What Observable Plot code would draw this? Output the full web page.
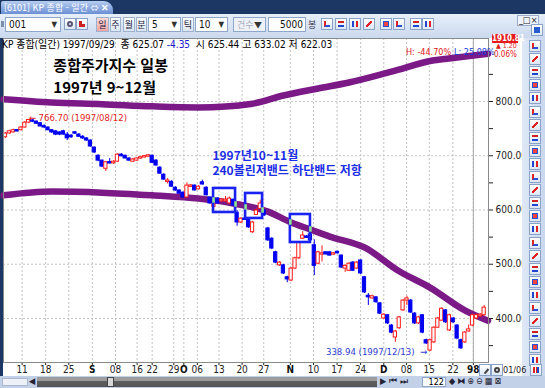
<!DOCTYPE html>
<html lang="ko"><head><meta charset="utf-8">
<script src="https://cdn.jsdelivr.net/npm/d3@7"></script>
<script src="https://cdn.jsdelivr.net/npm/@observablehq/plot@0.6"></script>
<style>
html,body{margin:0;padding:0}
body{width:545px;height:388px;position:relative;overflow:hidden;background:#1c3764;font-family:"Liberation Sans Narrow","DejaVu Sans Condensed","Noto Sans CJK KR",sans-serif;font-size:10px;}
.a{position:absolute;box-sizing:border-box;white-space:nowrap}
.kr{font-family:"Noto Sans CJK KR",sans-serif}
.combo{top:17px;height:15px;background:#fff;border:1px solid #8ea6c9;line-height:13px;padding-left:3px;color:#111}
.combo b{position:absolute;right:3px;top:0;font-size:8px;font-weight:normal;color:#333}
.btn{top:17px;height:15px;border:1px solid #9db0cc;background:linear-gradient(#fbfdff,#dbe5f3);line-height:13px;text-align:center;color:#1a1a40}
.ico{width:12px;height:12px;border:1px solid #8aa2c8;background:linear-gradient(#fff,#dce6f5);}
.ico i{position:absolute;left:2px;top:2px;width:6px;height:6px;box-sizing:border-box}
#chart{left:3px;top:38px}
</style></head><body>

<!-- window title bar -->
<div class="a kr" style="left:1px;top:1px;width:112px;height:13px;background:linear-gradient(#b7cdf1,#6a8fd3);border-radius:2px 9px 0 0;color:#fff;font-size:9px;line-height:13px;padding-left:3px">[6101] KP 종합 - 일간 <span style="font-size:8px">⇔</span> <b>✕</b></div>
<!-- toolbar -->
<div class="a" style="left:0;top:14px;width:545px;height:24px;background:linear-gradient(#e6eef9,#cbd9ee)"></div>
<div class="a" style="left:1px;top:21px;width:3px;height:6px;background:#7d8fae"></div>
<div class="a combo" style="left:5px;width:56px">001<b>▼</b></div>
<div class="a ico" style="left:64px;top:18px"><i style="border:2px solid #557;border-radius:50%"></i></div>
<div class="a ico" style="left:76px;top:18px"><i style="border-left:3px solid #c22;border-bottom:3px solid #c22"></i></div>
<div class="a btn kr" style="left:96px;width:13px;background:linear-gradient(#ffd9d9,#f2a6a6);font-size:9px">일</div>
<div class="a btn kr" style="left:110px;width:11px;font-size:9px">주</div>
<div class="a btn kr" style="left:123px;width:12px;font-size:9px">월</div>
<div class="a btn kr" style="left:136px;width:11px;font-size:9px">분</div>
<div class="a combo" style="left:148px;width:33px">5<b>▼</b></div>
<div class="a btn kr" style="left:182px;width:12px;font-size:9px">틱</div>
<div class="a combo" style="left:195px;width:33px">10<b>▼</b></div>
<div class="a combo kr" style="left:233px;width:33px;color:#aab;background:#eef2f8;font-size:9px">건수<b>▼</b></div>
<div class="a combo" style="left:268px;width:38px;text-align:right;padding-right:2px">5000</div>
<div class="a kr" style="left:308px;top:18px;font-size:9px;color:#334">봉</div>
<div id="tbicons"></div>
<div class="a" style="left:517px;top:15px;font-size:9px;color:#222;line-height:9px;background:#eef3fb;border:1px solid #9aaccb;padding:0 1px">_□×</div>
<div class="a ico" style="left:531px;top:24px;width:12px;height:12px"><i style="background:#2a5cd0"></i></div>

<!-- chart -->
<div id="chart" class="a"></div>

<!-- info row over chart -->
<div class="a" style="left:2px;top:39px;font-size:10px;line-height:11px;color:#000;z-index:5">KP 종합(일간) 1997/09/29 &nbsp;종 625.07 <span style="color:#1a1ad0">-4.35</span> &nbsp;시 625.44 고 633.02 저 622.03</div>
<div class="a" style="left:406px;top:48px;font-size:9px;line-height:9px;color:#e01818;z-index:5">H: -44.70%</div>
<div class="a" style="left:454px;top:48px;font-size:9px;line-height:9px;color:#1a3ad8;z-index:5">L: 25.08%</div>
<div class="a" style="left:492px;top:34px;width:26px;height:9px;background:#e41c1c;color:#fff;font-size:8px;line-height:9px;text-align:center;font-weight:bold;z-index:5">1910.81</div>
<div class="a" style="left:496px;top:43px;font-size:7px;line-height:7px;color:#e01818;z-index:5">▲ 1.20</div>
<div class="a" style="left:494px;top:51px;font-size:8px;line-height:8px;color:#e01818;z-index:5">0.06%</div>

<!-- right toolbar -->
<div class="a" style="left:522px;top:38px;width:23px;height:338px;background:linear-gradient(90deg,#dfe8f6,#c9d7ee)"></div>
<div id="rticons"></div>
<!-- x-axis row extras -->
<div class="a ico" style="left:479px;top:364px"><i style="border-right:2px solid #444;transform:rotate(40deg)"></i></div>
<div class="a ico" style="left:491px;top:364px"><i style="border:2px solid #444;border-radius:50%"></i></div>
<div class="a" style="left:503px;top:365px;font-size:9px;line-height:10px;color:#222;z-index:5">01/06</div>

<!-- bottom scroll row -->
<div class="a" style="left:0;top:376px;width:545px;height:12px;background:#c3d1e8"></div>
<div class="a" style="left:2px;top:378px;width:26px;height:8px;background:#eef2f8;border:1px solid #a9b8d0"></div>
<div class="a" style="left:29px;top:376px;font-size:9px;color:#223">◀</div>
<div class="a" style="left:37px;top:377px;width:340px;height:10px;background:linear-gradient(#9c9c9c 0,#9c9c9c 45%,#5e5e5e 45%,#555 100%)"></div>
<div class="a" style="left:107px;top:377px;width:7px;height:10px;background:#d8d8d8;border:1px solid #444"></div>
<div class="a" style="left:380px;top:376px;font-size:9px;color:#223;letter-spacing:3px">▶⏮⏭</div>
<div class="a" style="left:422px;top:377px;width:24px;height:10px;background:#fff;border:1px solid #8ea6c9;font-size:9px;line-height:8px;text-align:right;padding-right:1px">122</div>
<div class="a" style="left:449px;top:376px;font-size:9px;color:#223;letter-spacing:2px">◆⧓⊕⊖▦⊠</div>

<script>
// ---- data (KOSPI daily, 1997-08-05 .. 1998-01-06), one value per trading day ----
const openP  = [734,741,743,747,747,752,761,765,763,760,755,752,747,745,743,745,739,737,743,739,735,732,728,715,700,691,676,688,686,689,702,700,695,689,691,695,697,699,700,691,678,665,652,652,641,636,632,623,643,645,638,651,641,623,606,621,616,616,612,619,595,577,584,584,559,591,602,599,566,547,522,498,498,476,470,492,511,547,551,555,535,501,518,522,522,518,523,516,492,488,503,492,507,476,442,437,439,428,400,406,387,365,382,415,433,433,409,391,406,360,341,356,383,396,415,378,400,387,360,356,376,387,400,404,406];
const highP  = [743,747,749,748,754,763,766.7,766,764,761,757,753,748,746,744,747,743,739,744,741,737,733,729,716,702,692,689,695,691,704,704,701,696,695,696,698,700,702,701,693,680,667,658,654,643,637,633,650,647,646,645,655,643,624,612,623,621,625,624,620,599,586,586,585,579,602,618,600,568,549,524,505,500,478,494,513,542,560,553,557,545,524,534,523,523,521,524,517,499,503,505,505,508,477,446,443,440,429,409,407,389,378,404,435,441,435,411,404,407,362,362,385,402,420,416,408,402,389,362,376,388,408,408,409,424];
const lowP   = [732,740,742,744,746,751,759,761,758,753,750,746,741,737,737,738,728,732,739,734,730,727,716,704,689,678,671,685,684,688,698,694,690,688,690,694,696,698,686,681,666,655,648,642,634,629,622,622,642,635,637,646,626,611,604,611,614,614,610,607,570,575,581,566,557,590,601,588,542,527,501,496,481,466,468,490,509,546,548,543,479,499,504,517,515,517,519,492,485,487,487,491,481,446,424,436,428,407,399,389,372,356,380,413,424,409,389,389,372,352,338.94,354,382,395,391,376,391,361,343,354,375,385,398,402,404];
const closeP = [741,745,747,745,752,761,766,763,759,754,752,747,743,739,739,739,732,734,741,735,732,728,717,706,691,680,688,686,689,702,699,695,691,693,695,697,699,700,687,682,667,656,654,643,636,630,623,645,645,636,643,647,627,612,610,612,619,619,621,608,577,584,582,568,577,599,612,590,544,529,503,503,483,472,492,511,540,553,549,544,497,522,520,518,516,520,520,494,497,501,488,503,483,448,439,441,430,409,407,391,374,376,402,433,437,411,391,402,374,354,360,383,400,418,393,406,393,363,345,374,380,406,406,407,420];

// 240-day Bollinger band (read at a few bar positions)
const upperIdx = [-0.5, 12, 25, 38, 50, 64, 72, 81, 89, 100, 111, 117, 125];
const upperVal = [804, 798, 795, 791, 789, 796, 811, 824, 835, 855, 876, 881, 888];
const lowerIdx = [-0.5, 12, 25, 38, 50, 59, 68, 74, 79, 84, 93, 102, 110, 119, 125];
const lowerVal = [627, 634, 632, 627, 621, 612, 597, 577, 564, 551, 531, 487, 457, 415, 396];

// highlighted resistance boxes: bar range and price range
const boxFrom  = [53.9, 62.2, 73.8];
const boxTo    = [59.6, 66.6, 79.0];
const boxHigh  = [639.7, 630.5, 591.7];
const boxLow   = [595.4, 584.4, 540.1];
// band touches on box edges
const touchIdx = [53.9, 59.6, 62.2, 66.6, 73.8, 79.0];
const touchVal = [617.5, 610.2, 604.7, 599.1, 577.0, 564.1];

// axes
const xTickPos    = [4.3, 10.4, 16.4, 22.5, 28.5, 34.1, 38, 43.6, 46.2, 49.7, 55.3, 61.3, 66.9, 73.8, 79.8, 85.9, 92, 98, 103.9, 109.8, 115.9, 121.2];
const xTickLabels = ["11","18","25","S","08","16","22","29","O","06","13","20","27","N","10","17","24","D","08","15","22","98"];
const boldLabels  = ["S","O","N","D","98"];
const yearLine    = [121.2];
const yTicks      = [350,400,450,500,550,600,650,700,750,800,850];
const yGrid       = [400,500,600,700,800];

// texts
const titleLines = ["종합주가지수 일봉", "1997년 9~12월"];
const titleX = 12.4, titleY = [865.5, 824.0];
const noteLines  = ["1997년10~11월", "240볼린저밴드 하단밴드 저항"];
const noteX = 53.6, noteY = [699.6, 671.0];
const peakLabel = "← 766.70 (1997/08/12)";
const lowLabel  = "338.94 (1997/12/13)  →";

// ---- build ----
const upC = "#ff1a1a", dnC = "#0000f0", bandC = "#7b1a87";
const bars = openP.map((o, i) => ({i, o, h: highP[i], l: lowP[i], c: closeP[i], up: closeP[i] >= o}));
const bodies = bars.map(d => {
  let b1 = Math.min(d.o, d.c), b2 = Math.max(d.o, d.c);
  if (b2 - b1 < 2.6) { const m = (b1 + b2) / 2; b1 = m - 1.3; b2 = m + 1.3; }
  return {...d, b1, b2};
});
const upper = upperIdx.map((x, k) => ({x, v: upperVal[k]}));
const lower = lowerIdx.map((x, k) => ({x, v: lowerVal[k]}));
const boxes = boxFrom.map((x1, k) => ({x1, x2: boxTo[k], y1: boxLow[k], y2: boxHigh[k]}));
const touches = touchIdx.map((x, k) => ({x, v: touchVal[k]}));
const ticks = xTickPos.map((p, k) => ({p, s: xTickLabels[k]}));
const peakBar = bars.reduce((a, b) => b.h > a.h ? b : a);
const lowBar = bars.reduce((a, b) => b.l < a.l ? b : a);
const narrow = '"Liberation Sans Narrow","DejaVu Sans Condensed",sans-serif';
const kr = '"Noto Sans CJK KR",sans-serif';

const chart = Plot.plot({
  width: 519, height: 338,
  marginLeft: 0, marginRight: 34, marginTop: 0, marginBottom: 14,
  x: {type: "linear", domain: [-0.518, 125.13], axis: null},
  y: {domain: [318.9, 916.1], axis: null},
  color: {type: "identity"},
  style: {background: "#fff", color: "#222", fontFamily: narrow, fontSize: "10px", overflow: "visible"},
  marks: [
    Plot.ruleY(yGrid, {stroke: "#c2c2c2", strokeDasharray: "2,2"}),
    Plot.ruleX(xTickPos, {stroke: "#c2c2c2", strokeDasharray: "2,2"}),
    Plot.ruleX(yearLine, {stroke: "#a8a8a8"}),
    Plot.line(upper, {x: "x", y: "v", stroke: bandC, strokeWidth: 6.5, curve: "monotone-x"}),
    Plot.line(lower, {x: "x", y: "v", stroke: bandC, strokeWidth: 6.5, curve: "monotone-x"}),
    Plot.ruleX(bars, {x: "i", y1: "l", y2: "h", stroke: d => d.up ? upC : dnC, strokeWidth: 1}),
    Plot.rect(bodies, {x1: d => d.i - 0.42, x2: d => d.i + 0.42, y1: "b1", y2: "b2",
      fill: d => d.up ? "#ffffff" : dnC, stroke: d => d.up ? upC : dnC, strokeWidth: 1}),
    Plot.rect(boxes, {x1: "x1", x2: "x2", y1: "y1", y2: "y2", fill: "none", stroke: "#1a22f2", strokeWidth: 2.6}),
    Plot.ruleX(touches, {x: "x", y1: d => d.v - 5, y2: d => d.v + 5, stroke: "#8ee68e", strokeWidth: 2.6}),
    Plot.text(titleLines, {x: () => titleX, y: (d, i) => titleY[i], text: d => d, textAnchor: "start",
      fontSize: 15, fontWeight: "bold", fontFamily: kr, fill: "#000"}),
    Plot.text(noteLines, {x: () => noteX, y: (d, i) => noteY[i], text: d => d, textAnchor: "start",
      fontSize: 12, fontWeight: "bold", fontFamily: kr, fill: "#1c2ee6"}),
    Plot.text([peakBar], {x: "i", y: "h", text: () => peakLabel, textAnchor: "start", dx: 0, dy: -2,
      fontSize: 9.5, fill: "#e02424"}),
    Plot.text([lowBar], {x: "i", y: "l", text: () => lowLabel, textAnchor: "end", dx: -3, dy: 0,
      fontSize: 9.5, fill: "#3040d0"}),
    Plot.axisY({ticks: yTicks, anchor: "right", tickSize: 4, tickPadding: 3,
      tickFormat: d => d % 100 === 0 ? d.toFixed(2) : "", fontSize: 10}),
    Plot.axisX({ticks: xTickPos, anchor: "bottom", tickSize: 3, tickFormat: () => ""}),
    Plot.text(ticks.filter(t => !boldLabels.includes(t.s)), {x: "p", text: "s", frameAnchor: "bottom", dy: 10, fontSize: 10, fill: "#222"}),
    Plot.text(ticks.filter(t => boldLabels.includes(t.s)), {x: "p", text: "s", frameAnchor: "bottom", dy: 10, fontSize: 10, fontWeight: "bold", fill: "#111"}),
    Plot.frame({stroke: "#8a8a8a"})
  ]
});
document.getElementById("chart").appendChild(chart);

// ---- decorative toolbar icons (UI chrome) ----
function icon(parent, x, y, glyph) {
  const d = document.createElement("div");
  d.className = "a ico"; d.style.left = x + "px"; d.style.top = y + "px";
  d.innerHTML = "<i style='" + glyph + "'></i>";
  parent.appendChild(d);
}
const glyphs = [
  "border-left:2px solid #d22;border-bottom:2px solid #2a4fd0",
  "border-top:2px solid #c22;border-bottom:2px solid #24c",
  "border-left:2px solid #24c;border-right:2px solid #d22",
  "background:linear-gradient(135deg,transparent 40%,#d22 40%,#d22 60%,transparent 60%)",
  "border:1px solid #2a4fd0;background:#e44"
];
const tb = document.getElementById("tbicons");
[321, 335, 349, 363, 380, 393, 410, 422].forEach((x, k) => icon(tb, x, 18, glyphs[k % glyphs.length]));
const rt = document.getElementById("rticons");
for (let k = 0; k < 25; k++) icon(rt, 529, 40 + k * 13.1, glyphs[(k * 3) % glyphs.length]);
icon(document.body, 530, 364, "background:linear-gradient(90deg,#d22 0 30%,#fff 30% 50%,#d22 50% 70%,#24c 70%)");
</script>
</body></html>
